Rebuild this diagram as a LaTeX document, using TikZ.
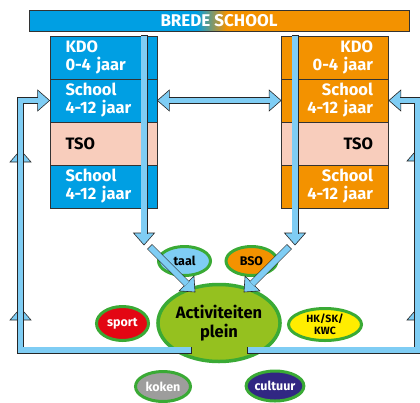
\documentclass[tikz,border=0pt]{standalone}
\usepackage{fontspec}
\setmainfont{Fira Sans}
\usepackage{tikz}
\usetikzlibrary{shapes,calc,positioning}
\definecolor{kblauw}{RGB}{0,159,227}
\definecolor{koranje}{RGB}{243,146,0}
\definecolor{zalm}{RGB}{248,205,188}
\definecolor{pijlblauw}{RGB}{127,205,244}
\definecolor{pleingroen}{RGB}{149,193,31}
\definecolor{bolrand}{RGB}{58,170,53}
\definecolor{sportrood}{RGB}{227,6,19}
\definecolor{hkgeel}{RGB}{255,237,0}
\definecolor{kokengrijs}{RGB}{157,157,156}
\definecolor{cultuurpaars}{RGB}{49,39,131}
\pgfdeclarehorizontalshading{titelband}{100bp}{color(0bp)=(kblauw); color(47bp)=(kblauw); color(51bp)=(koranje); color(100bp)=(koranje)}
\newcommand\kop[2]{% from, tip
  \path ($(#2)!12pt!(#1)$) coordinate (kb);
  \draw[kop] (#2) -- ($(kb)!10.5pt!90:(#2)$) -- ($(kb)!10.5pt!-90:(#2)$) -- cycle;
}
\newcommand\balk[2][]{% extra, path
  \draw[balkrand,#1] #2;
  \draw[balkvul] #2;
}
\newcommand\pijl[2]{% from, tip
  \kop{#1}{#2}
  \balk[shorten <=-0.6pt]{(#1) -- ($(#2)!11.4pt!(#1)$)}
}
\tikzset{
    % titel balk
    titelbalk/.style={
           draw=black!80,
           line width=0.6pt,
           shading=titelband,
           minimum width=380pt,
           minimum height=21pt,
           text=white,
           font=\fontsize{17}{17}\selectfont\bfseries},
    % vakken in de kolommen
    vak/.style={
           rectangle,
           draw=black!80,
           line width=0.8pt,
           minimum width=107pt,
           minimum height=43pt,
           text width=76pt,
           inner xsep=15.5pt,
           inner ysep=0pt,
           font=\fontsize{16.5}{18}\selectfont\bfseries},
    vakL/.style={vak, fill=kblauw, text=white, align=left},
    vakR/.style={vak, fill=koranje, text=white, align=right},
    tso/.style={fill=zalm, text=black},
    % ellipsen
    bol/.style={
           ellipse,
           draw=bolrand,
           line width=3pt,
           inner sep=0pt,
           align=center,
           font=\fontsize{12.5}{13}\selectfont\bfseries},
    % pijlen
    kop/.style={
           fill=pijlblauw,
           draw=black!85,
           line width=0.6pt,
           line join=miter},
    balkrand/.style={
           draw=black!85,
           line width=7pt,
           line join=miter},
    balkvul/.style={
           draw=pijlblauw,
           line width=5.8pt,
           line join=miter}
}
\begin{document}
\begin{tikzpicture}[x=1pt,y=-1pt]
  \useasboundingbox (0,0) rectangle (420,402);
  \node (titel) at (219,20.5) [titelbalk] {BREDE SCHOOL};
  % linker kolom
  \node (kdoL) at (103.5,57.5) [vakL] {KDO\\0-4 jaar};
  \node (schoolL) at (103.5,100.5) [vakL] {School\\4-12 jaar};
  \node (tsoL) at (103.5,143.5) [vakL,tso] {TSO};
  \node (school2L) at (103.5,186.5) [vakL] {School\\4-12 jaar};
  % rechter kolom
  \node (kdoR) at (335,57.5) [vakR] {KDO\\0-4 jaar};
  \node (schoolR) at (335,100.5) [vakR] {School\\4-12 jaar};
  \node (tsoR) at (335,143.5) [vakR,tso] {TSO};
  \node (school2R) at (335,186.5) [vakR] {School\\4-12 jaar};
  % activiteiten
  \node (plein) at (219,323) [bol,line width=3.5pt,fill=pleingroen,minimum width=119pt,minimum height=77pt,font=\fontsize{16.5}{19}\selectfont\bfseries] {Activiteiten\\plein};
  \node (taal) at (184.5,261) [bol,fill=pijlblauw,minimum width=52pt,minimum height=29pt] {taal};
  \node (bso) at (251.5,261) [bol,fill=koranje,minimum width=51pt,minimum height=29pt] {BSO};
  \node (sport) at (122.5,323.5) [bol,fill=sportrood,text=white,minimum width=52pt,minimum height=34pt] {sport};
  \node (hk) at (325,324.5) [bol,fill=hkgeel,minimum width=73pt,minimum height=32pt,font=\fontsize{10.5}{12}\selectfont\bfseries] {HK/SK/\\KWC};
  \node (koken) at (163,386.5) [bol,fill=kokengrijs,text=white,minimum width=55pt,minimum height=30pt] {koken};
  \node (cultuur) at (275,386) [bol,fill=cultuurpaars,text=white,minimum width=51pt,minimum height=30pt] {cultuur};
%  \node (x) at (219,200) {};
  % pijlen door de kolommen
  \coordinate (inL) at (144,245);
  \coordinate (bovenL) at (inL |- kdoL.north);
  \coordinate (inR) at (295,245);
  \coordinate (bovenR) at (inR |- kdoR.north);
  \pijl{bovenL}{inL}
  \pijl{bovenR}{inR}
  \coordinate (vanL) at (150,247);
  \coordinate (naarL) at (195,292);
  \coordinate (vanR) at (289,247);
  \coordinate (naarR) at (244,292);
  \pijl{vanL}{naarL}
  \pijl{vanR}{naarR}
  % tussen de scholen
  \kop{schoolR.west}{schoolL.east}
  \kop{schoolL.east}{schoolR.west}
  \balk{($(schoolL.east)!11.4pt!(schoolR.west)$) -- ($(schoolR.west)!11.4pt!(schoolL.east)$)}
  % terug van het plein, links
  \coordinate (uitL) at (191,350);
  \coordinate (hoekL) at (20.5,350);
  \coordinate (kantL) at (hoekL |- schoolL.west);
  \kop{20.5,175}{20.5,150}
  \kop{20.5,330}{20.5,308}
  \kop{kantL}{schoolL.west}
  \balk[shorten <=-0.6pt]{(uitL) -- (hoekL) -- (kantL) -- ($(schoolL.west)!11.4pt!(kantL)$)}
  % terug van het plein, rechts
  \coordinate (uitR) at (248,350);
  \coordinate (hoekR) at (417.5,350);
  \coordinate (kantR) at (hoekR |- schoolR.east);
  \kop{417.5,175}{417.5,149}
  \kop{417.5,330}{417.5,308}
  \kop{kantR}{schoolR.east}
  \balk[shorten <=-0.6pt]{(uitR) -- (hoekR) -- (kantR) -- ($(schoolR.east)!11.4pt!(kantR)$)}
\end{tikzpicture}
\end{document}
